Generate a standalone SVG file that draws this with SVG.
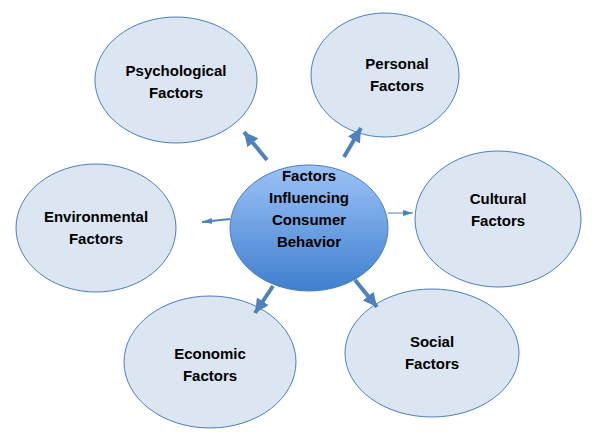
<svg xmlns="http://www.w3.org/2000/svg" width="600" height="441" viewBox="0 0 600 441">
<style>
.n{fill:#dce6f2;stroke:#4a7ebb;stroke-width:1}
.t{font-family:"Liberation Sans",Arial,sans-serif;font-weight:bold;font-size:15px;fill:#000;text-anchor:middle}
.c{stroke:#4f81bd;fill:none}
</style>
<defs>
<linearGradient id="g" x1="0" y1="0" x2="0" y2="1">
<stop offset="0" stop-color="#9cc2f7"/><stop offset="1" stop-color="#3f7fce"/>
</linearGradient>
<marker id="a" markerUnits="userSpaceOnUse" markerWidth="20" markerHeight="20" refX="14" refY="7" orient="auto">
<path d="M0,0 L14,7 L0,14 Z" fill="#4f81bd"/>
</marker>
<marker id="s" markerUnits="userSpaceOnUse" markerWidth="12" markerHeight="8" refX="10" refY="3" orient="auto">
<path d="M0,0 L10,3 L0,6 Z" fill="#4f81bd"/>
</marker>
</defs>
<g id="psychological"><ellipse class="n" cx="176" cy="80" rx="81" ry="63"/><text class="t" x="176" y="76">Psychological</text><text class="t" x="176" y="98">Factors</text></g>
<g id="personal"><ellipse class="n" cx="385" cy="75" rx="74" ry="62"/><text class="t" x="397" y="69">Personal</text><text class="t" x="397" y="91">Factors</text></g>
<g id="cultural"><ellipse class="n" cx="498" cy="219" rx="83" ry="68"/><text class="t" x="498" y="204">Cultural</text><text class="t" x="498" y="226">Factors</text></g>
<g id="environmental"><ellipse class="n" cx="96" cy="228" rx="80" ry="64"/><text class="t" x="96" y="222">Environmental</text><text class="t" x="96" y="244">Factors</text></g>
<g id="economic"><ellipse class="n" cx="210" cy="362" rx="86" ry="66"/><text class="t" x="210" y="359">Economic</text><text class="t" x="210" y="381">Factors</text></g>
<g id="social"><ellipse class="n" cx="432" cy="353" rx="87" ry="64"/><text class="t" x="432" y="347">Social</text><text class="t" x="432" y="369">Factors</text></g>
<g id="center"><ellipse cx="309" cy="228" rx="79" ry="63" fill="url(#g)" stroke="#4a7ebb"/>
<text class="t" x="309" y="181">Factors</text><text class="t" x="309" y="203">Influencing</text><text class="t" x="309" y="225">Consumer</text><text class="t" x="309" y="247">Behavior</text></g>
<g id="connectors">
<line class="c" stroke-width="4" x1="267" y1="160" x2="244" y2="132" marker-end="url(#a)"/>
<line class="c" stroke-width="4" x1="344" y1="157" x2="361" y2="128" marker-end="url(#a)"/>
<line class="c" stroke-width="2" x1="230" y1="219" x2="202" y2="222" marker-end="url(#s)"/>
<line class="c" stroke-width="1" x1="388" y1="213" x2="413" y2="213" marker-end="url(#s)"/>
<line class="c" stroke-width="4" x1="273" y1="286" x2="255" y2="313" marker-end="url(#a)"/>
<line class="c" stroke-width="4" x1="355" y1="280" x2="377" y2="307" marker-end="url(#a)"/>
</g>
</svg>
